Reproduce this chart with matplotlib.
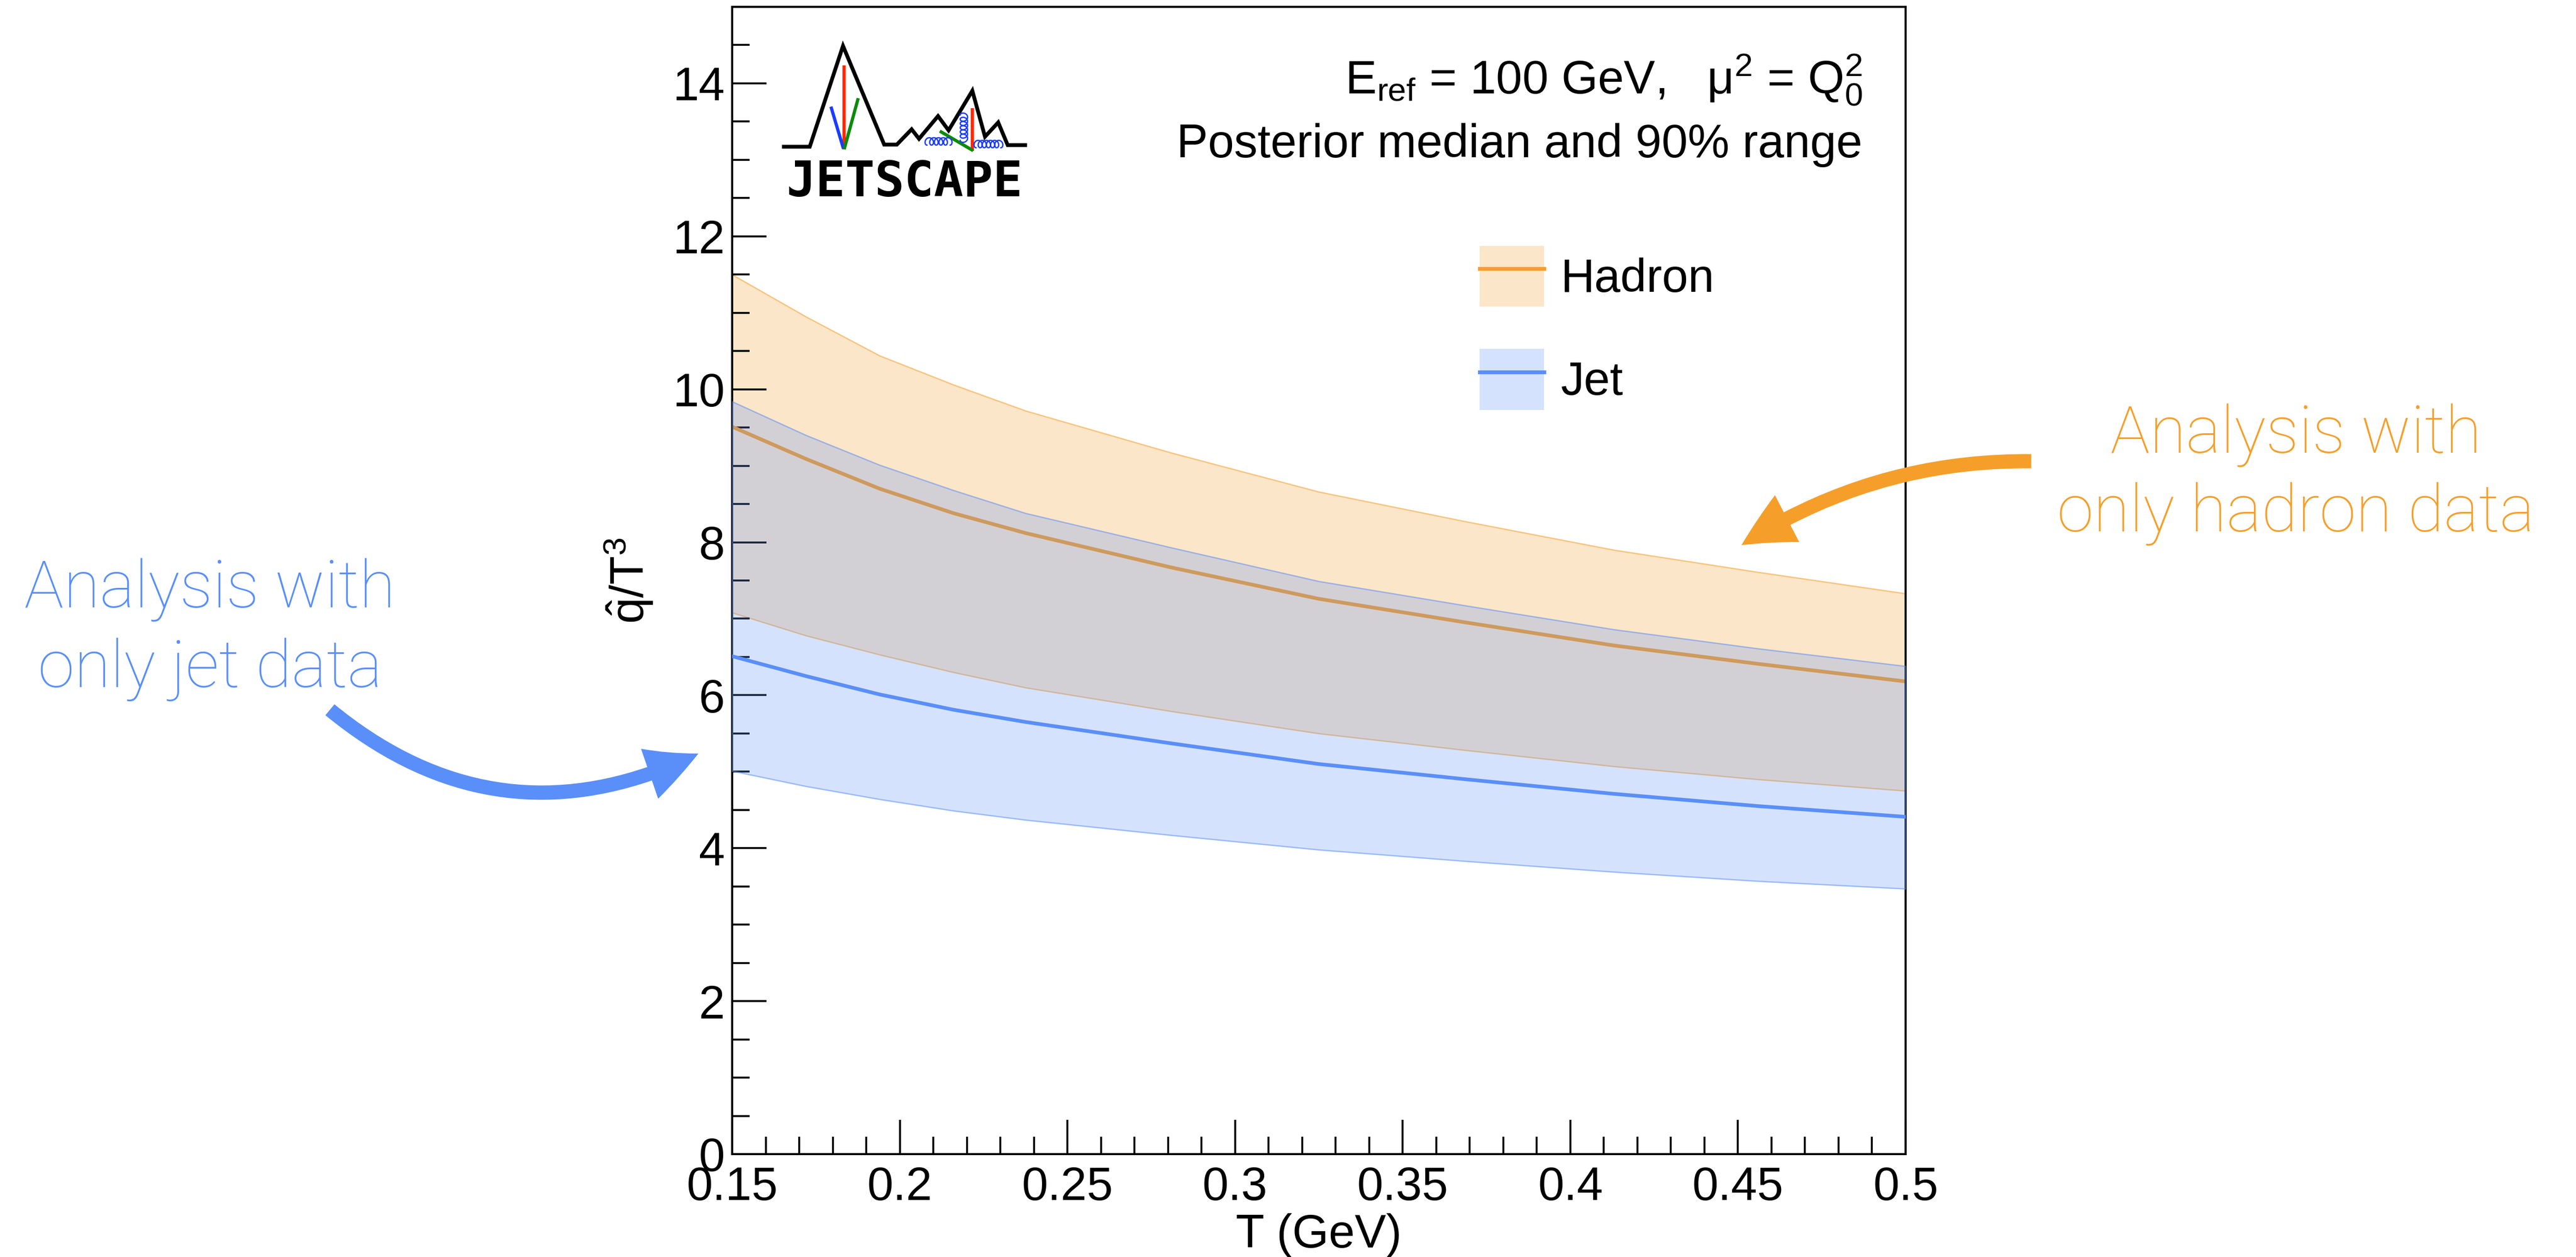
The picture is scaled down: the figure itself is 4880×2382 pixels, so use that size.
import matplotlib
matplotlib.use('Agg')
import matplotlib.pyplot as plt
import numpy as np
from matplotlib.patches import Patch, FancyArrowPatch
from matplotlib.lines import Line2D
from matplotlib.ticker import FixedLocator, MultipleLocator, FuncFormatter

# ---------------- data ----------------
T = [0.15, 0.172, 0.194, 0.216, 0.2375, 0.281, 0.325, 0.369, 0.413, 0.456, 0.5]
hadron_hi = [11.50, 10.95, 10.44, 10.06, 9.72, 9.17, 8.66, 8.27, 7.90, 7.61, 7.33]
hadron_med = [9.51, 9.09, 8.70, 8.38, 8.12, 7.67, 7.26, 6.95, 6.65, 6.41, 6.18]
hadron_lo = [7.08, 6.78, 6.53, 6.30, 6.10, 5.79, 5.50, 5.28, 5.07, 4.90, 4.75]
jet_hi = [9.84, 9.40, 9.01, 8.68, 8.38, 7.93, 7.49, 7.17, 6.86, 6.61, 6.38]
jet_med = [6.51, 6.25, 6.01, 5.81, 5.65, 5.37, 5.10, 4.90, 4.71, 4.55, 4.41]
jet_lo = [5.01, 4.81, 4.64, 4.49, 4.37, 4.17, 3.98, 3.83, 3.69, 3.57, 3.47]

x_ticks = [0.15, 0.2, 0.25, 0.3, 0.35, 0.4, 0.45, 0.5]
y_ticks = [0, 2, 4, 6, 8, 10, 12, 14]
legend_labels = ['Hadron', 'Jet']

# ---------------- style ----------------
plt.rcParams['font.family'] = ['Liberation Sans', 'DejaVu Sans']
plt.rcParams['mathtext.fontset'] = 'custom'
plt.rcParams['mathtext.rm'] = 'Liberation Sans'
plt.rcParams['mathtext.it'] = 'Liberation Sans:italic'
plt.rcParams['mathtext.bf'] = 'Liberation Sans:bold'

ORANGE = '#F59F2A'
BLUE = '#5A8FF9'
FS = 32

W, H = 4880, 2382
DPI = 200
fig = plt.figure(figsize=(W / DPI, H / DPI), dpi=DPI)


def fx(px):
    return px / W


def fy(py):
    return 1 - py / H


ax = fig.add_axes([fx(1387), fy(2187), (3610 - 1387) / W, (2187 - 13) / H])

oc = matplotlib.colors.to_rgb(ORANGE)
bc = matplotlib.colors.to_rgb(BLUE)

ax.fill_between(T, hadron_lo, hadron_hi, facecolor=(*oc, 0.25),
                edgecolor=(*oc, 0.55), lw=0.9, zorder=1)
ax.plot(T, hadron_med, color=ORANGE, lw=2.5, zorder=2)
ax.fill_between(T, jet_lo, jet_hi, facecolor=(*bc, 0.25),
                edgecolor=(*bc, 0.55), lw=0.9, zorder=3)
ax.plot(T, jet_med, color=BLUE, lw=2.5, zorder=4)

ax.set_xlim(0.15, 0.5)
ax.set_ylim(0, 15)
ax.xaxis.set_major_locator(FixedLocator(x_ticks))
ax.yaxis.set_major_locator(FixedLocator(y_ticks))
ax.xaxis.set_minor_locator(MultipleLocator(0.01))
ax.yaxis.set_minor_locator(MultipleLocator(0.5))
ax.xaxis.set_major_formatter(FuncFormatter(lambda v, p: '{:g}'.format(round(v, 3))))
ax.yaxis.set_major_formatter(FuncFormatter(lambda v, p: '{:g}'.format(v)))
ax.tick_params(which='both', direction='in', top=False, right=False,
               labelsize=FS, width=1.3, color='black')
ax.tick_params(which='major', length=23.5)
ax.tick_params(which='minor', length=11.8)
ax.tick_params(axis='x', which='major', pad=8)
ax.tick_params(axis='y', which='major', pad=5)
for s in ax.spines.values():
    s.set_linewidth(1.4)

ax.set_xlabel('T (GeV)', fontsize=FS, labelpad=2)
ax.set_ylabel(r'$\mathrm{\hat{q}/T^{3}}$', fontsize=FS)
ax.yaxis.set_label_coords((1241 - 1387) / 2223, 0.5)

# legend
h_had = (Patch(facecolor=(*oc, 0.25), edgecolor='none'),
         Line2D([], [], color=ORANGE, lw=2.6))
h_jet = (Patch(facecolor=(*bc, 0.25), edgecolor='none'),
         Line2D([], [], color=BLUE, lw=2.6))
ax.legend([h_had, h_jet], legend_labels, loc='upper left',
          bbox_to_anchor=(fx(2803), fy(466)), bbox_transform=fig.transFigure,
          frameon=False, fontsize=FS, handlelength=1.37, handleheight=1.62,
          handletextpad=0.36, labelspacing=0.9, borderpad=0, borderaxespad=0)

# top-right text
fig.text(fx(3528), fy(178), r'E$_{\mathrm{ref}}$ = 100 GeV,   μ$^{2}$ = Q$_{0}^{2}$',
         ha='right', va='baseline', fontsize=FS)
fig.text(fx(3528), fy(298), 'Posterior median and 90% range',
         ha='right', va='baseline', fontsize=FS)

# annotations
ann_kw = dict(ha='center', va='baseline', fontsize=45,
              family=['Roboto', 'DejaVu Sans'], fontweight='light')
fig.text(fx(398), fy(1151), 'Analysis with', color=BLUE, **ann_kw)
fig.text(fx(398), fy(1302), 'only jet data', color=BLUE, **ann_kw)
fig.text(fx(4349), fy(858), 'Analysis with', color=ORANGE, **ann_kw)
fig.text(fx(4349), fy(1007), 'only hadron data', color=ORANGE, **ann_kw)

px2pt = 72.0 / DPI
astyle = 'simple,head_length={:.1f},head_width={:.1f},tail_width={:.1f}'.format(
    100 * px2pt, 100 * px2pt, 27 * px2pt)
arr_b = FancyArrowPatch((fx(625), fy(1345)), (fx(1323), fy(1428)),
                        transform=fig.transFigure, arrowstyle=astyle,
                        connectionstyle='arc3,rad=0.32', color=BLUE,
                        mutation_scale=1, lw=0, shrinkA=0, shrinkB=0)
arr_o = FancyArrowPatch((fx(3848), fy(874)), (fx(3299), fy(1033)),
                        transform=fig.transFigure, arrowstyle=astyle,
                        connectionstyle='arc3,rad=0.15', color=ORANGE,
                        mutation_scale=1, lw=0, shrinkA=0, shrinkB=0)
fig.add_artist(arr_b)
fig.add_artist(arr_o)

# ---------------- JETSCAPE logo ----------------
mx = [1485, 1534, 1597, 1675, 1699, 1727, 1741, 1777, 1797, 1842, 1866, 1891, 1909, 1942]
my = [278, 278, 87, 274, 274, 245, 263, 220, 247, 172, 259, 232, 275, 275]
fig.add_artist(Line2D([fx(v) for v in mx], [fy(v) for v in my],
                      transform=fig.transFigure, color='black', lw=2.6,
                      solid_joinstyle='miter'))
segs = [((1599, 127), (1599, 280), '#ff2a00'),
        ((1575, 205), (1597, 279), '#1a3cff'),
        ((1625, 189), (1600, 280), '#0b8a0b'),
        ((1842, 208), (1842, 283), '#ff2a00'),
        ((1783, 250), (1841, 284), '#0b8a0b')]
for (x0, y0), (x1, y1), c in segs:
    fig.add_artist(Line2D([fx(x0), fx(x1)], [fy(y0), fy(y1)],
                          transform=fig.transFigure, color=c, lw=2.2))


def coil(x0, y0, x1, y1, n, r):
    t = np.linspace(0, 1, 200)
    L = np.hypot(x1 - x0, y1 - y0)
    ux, uy = (x1 - x0) / L, (y1 - y0) / L
    vx, vy = -uy, ux
    ph = 2 * np.pi * n * t
    a = t * L - r * 0.8 * np.sin(ph)
    b = r * np.cos(ph)
    xs = x0 + a * ux + b * vx
    ys = y0 + a * uy + b * vy
    fig.add_artist(Line2D(fx(xs), fy(ys), transform=fig.transFigure,
                          color='#1a3cff', lw=0.9))


coil(1756, 268, 1800, 268, 5, 7)
coil(1826, 218, 1826, 266, 6, 7)
coil(1849, 273, 1896, 273, 6, 7)
fig.text(fx(1713), fy(372), 'JETSCAPE', ha='center', va='baseline',
         fontsize=33.5, family='DejaVu Sans Mono', fontweight='bold')

fig.savefig('out.png', dpi=DPI)
